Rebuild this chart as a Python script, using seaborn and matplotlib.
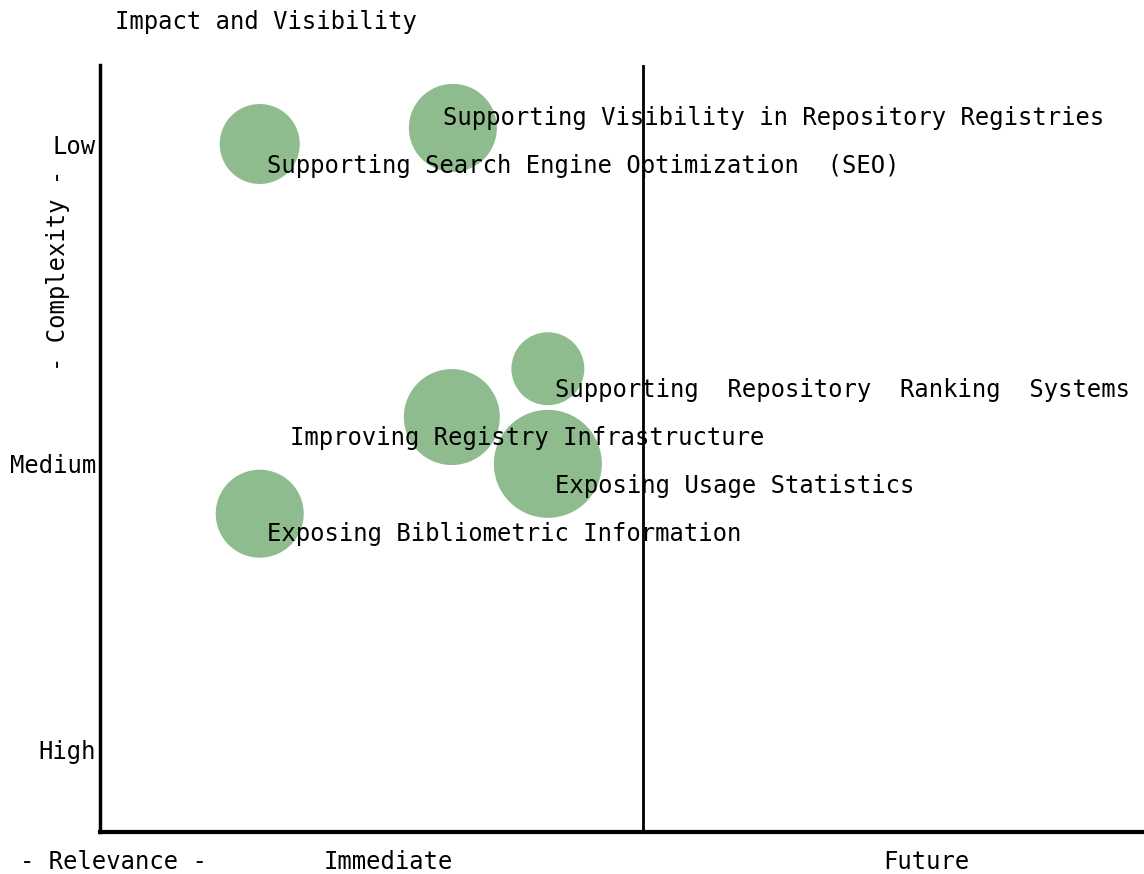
import matplotlib
matplotlib.use("Agg")
import matplotlib.pyplot as plt
import seaborn as sns
import pandas as pd

# values (axes run 0..100 in both directions)
topics = [
    "Supporting Search Engine Optimization  (SEO)",
    "Supporting Visibility in Repository Registries",
    "Supporting  Repository  Ranking  Systems",
    "Improving Registry Infrastructure",
    "Exposing Usage Statistics",
    "Exposing Bibliometric Information",
]
relevance = [15.3, 33.8, 42.9, 33.7, 42.9, 15.3]
complexity = [89.7, 91.8, 60.4, 54.1, 48.0, 41.5]
impact = [80, 88, 73, 96, 108, 88]

y_tick_values = [89.7, 48.1, 10.7]
y_tick_labels = ["Low", "Medium", "High"]
divider = 52.0

# label offsets from bubble centre, in pixels (x right, y down)
label_dx = [7, -10, 7, -162, 7, 7]
label_dy = [22, -10, 21, 21, 22, 20]

df = pd.DataFrame({"topic": topics, "relevance": relevance,
                   "complexity": complexity, "impact": impact})

sns.set_style("white")
plt.rcParams["font.family"] = ["DejaVu Sans Mono"]
plt.rcParams["text.color"] = "black"
plt.rcParams["ytick.color"] = "black"
FS = 17.2
GREEN = "#8fbc8f"

fig = plt.figure(figsize=(11.44, 8.74), dpi=100)
ax = fig.add_axes([100 / 1144, 1 - 832 / 874, 1 - 100 / 1144, (832 - 65) / 874])

px = 72 / 100  # points per pixel
sizes = {v: (v * px) ** 2 for v in set(impact)}
sns.scatterplot(data=df, x="relevance", y="complexity", size="impact",
                sizes=sizes, color=GREEN, linewidth=0, alpha=1,
                legend=False, ax=ax, clip_on=False, zorder=2)

for t, x, y, dx, dy in zip(topics, relevance, complexity, label_dx, label_dy):
    ax.annotate(t, (x, y), xytext=(dx, -dy), textcoords="offset pixels",
                ha="left", va="center", fontsize=FS, color="black", zorder=3)

ax.axvline(divider, color="black", lw=2, zorder=4)

ax.set_xlim(0, 100)
ax.set_ylim(0, 100)
ax.set_xticks([])
ax.set_yticks(y_tick_values)
ax.set_yticklabels(y_tick_labels, fontsize=FS, color="black")
ax.tick_params(axis="y", length=0, pad=3)
ax.set_xlabel("")
ax.set_ylabel("")
for s in ["top", "right"]:
    ax.spines[s].set_visible(False)
ax.spines["left"].set_linewidth(2.5)
ax.spines["bottom"].set_linewidth(3)
ax.spines["left"].set_color("black")
ax.spines["bottom"].set_color("black")

fig.text(115 / 1144, 1 - 22 / 874, "Impact and Visibility", fontsize=FS,
         ha="left", va="center")
fig.text(58 / 1144, 1 - 270 / 874, "- Complexity -", fontsize=FS,
         rotation=90, ha="center", va="center")
fig.text(113 / 1144, 1 - 862 / 874, "- Relevance -", fontsize=FS,
         ha="center", va="center")
fig.text(388 / 1144, 1 - 862 / 874, "Immediate", fontsize=FS,
         ha="center", va="center")
fig.text(926 / 1144, 1 - 862 / 874, "Future", fontsize=FS,
         ha="center", va="center")

fig.savefig("out.png", dpi=100)
